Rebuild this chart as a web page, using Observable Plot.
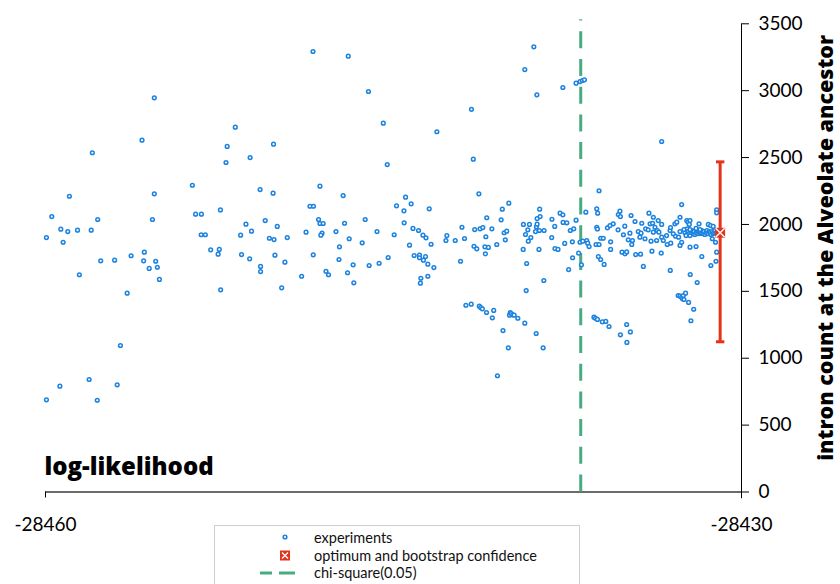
<!DOCTYPE html>
<html><head><meta charset="utf-8">
<script src="https://cdn.jsdelivr.net/npm/d3@7"></script>
<script src="https://cdn.jsdelivr.net/npm/@observablehq/plot@0.6"></script>
<style>
html,body{margin:0;padding:0;background:#fff;overflow:hidden;}
#wrap{position:relative;width:840px;height:584px;}
#legend{position:absolute;left:214px;top:525px;width:366px;height:70px;border:1px solid #cfcfcf;background:#fff;font-family:Lato,sans-serif;font-size:14.5px;color:#111;box-sizing:border-box;}
.row{position:absolute;left:0;width:100%;height:18px;}
.row svg{position:absolute;left:30px;top:0;}
.row span{position:absolute;left:99px;top:0;line-height:18px;}
</style></head>
<body><div id="wrap"></div>
<script>
const ll = [
-28459.96,-28459.73,-28459.34,-28459.24,-28459.04,-28458.97,-28458.62,-28458.54,-28458.03,-28457.98,
-28457.75,-28457.62,-28457.02,-28456.48,-28456.31,-28455.84,-28455.74,-28455.77,-28455.53,-28455.39,
-28455.31,-28455.31,-28455.25,-28455.18,-28455.09,-28459.96,-28459.38,-28458.12,-28457.77,-28456.91,
-28456.77,-28453.67,-28453.53,-28453.28,-28453.29,-28453.11,-28452.88,-28452.56,-28452.51,-28452.46,
-28452.45,-28452.22,-28452.17,-28451.82,-28451.59,-28451.55,-28451.36,-28451.20,-28451.18,-28451.12,
-28450.75,-28450.73,-28450.73,-28450.53,-28450.35,-28450.19,-28450.17,-28450.15,-28450.11,-28450.01,
-28449.82,-28449.68,-28449.58,-28448.96,-28448.77,-28448.60,-28448.47,-28448.46,-28448.45,-28448.23,
-28448.17,-28448.17,-28448.03,-28448.08,-28448.13,-28447.91,-28447.80,-28447.48,-28447.35,-28447.33,
-28447.17,-28447.11,-28446.98,-28446.95,-28446.91,-28446.74,-28446.71,-28446.35,-28446.22,-28446.08,
-28446.05,-28445.71,-28445.62,-28445.44,-28445.27,-28445.23,-28444.97,-28444.87,-28444.55,-28444.54,
-28444.48,-28444.31,-28444.24,-28444.16,-28444.11,-28443.92,-28443.88,-28443.88,-28443.82,-28443.84,
-28443.73,-28443.71,-28443.62,-28443.60,-28443.52,-28443.52,-28443.46,-28443.38,-28443.26,-28443.13,
-28442.74,-28442.70,-28442.34,-28442.11,-28442.05,-28441.94,-28441.88,-28441.65,-28441.64,-28441.56,
-28441.53,-28441.50,-28441.41,-28441.32,-28441.30,-28441.27,-28441.24,-28441.17,-28441.15,-28441.06,
-28441.04,-28441.02,-28440.99,-28440.98,-28440.91,-28440.76,-28440.74,-28440.68,-28440.55,-28440.52,
-28440.36,-28440.31,-28440.28,-28440.23,-28440.18,-28440.12,-28440.05,-28440.03,-28440.00,-28439.97,
-28439.93,-28439.86,-28439.80,-28439.64,-28439.41,-28439.40,-28439.34,-28439.34,-28439.31,-28439.28,
-28439.26,-28439.21,-28439.19,-28439.14,-28439.08,-28438.95,-28438.88,-28438.85,-28438.84,-28438.82,
-28438.81,-28438.81,-28438.73,-28438.71,-28438.70,-28438.68,-28438.55,-28438.52,-28438.51,-28438.18,
-28438.17,-28438.05,-28438.04,-28437.91,-28437.82,-28437.70,-28437.70,-28437.69,-28437.62,-28437.53,
-28437.45,-28437.38,-28437.29,-28437.28,-28437.23,-28437.13,-28437.13,-28437.02,-28436.96,-28436.86,
-28436.77,-28436.96,-28436.90,-28436.84,-28436.71,-28436.67,-28436.63,-28436.57,-28436.36,-28436.29,
-28436.21,-28436.27,-28436.14,-28436.24,-28436.21,-28436.24,-28436.20,-28436.14,-28436.17,-28436.07,
-28436.07,-28435.96,-28436.00,-28435.85,-28435.92,-28435.78,-28435.71,-28435.67,-28435.64,-28435.64,
-28435.53,-28435.32,-28435.31,-28435.24,-28435.22,-28435.22,-28435.15,-28435.09,-28435.03,-28435.02,
-28434.95,-28434.95,-28434.94,-28434.88,-28434.81,-28434.79,-28434.76,-28434.73,-28434.70,-28434.59,
-28434.56,-28434.45,-28434.38,-28434.35,-28434.33,-28434.30,-28434.23,-28434.16,-28434.13,-28434.02,
-28433.99,-28433.94,-28433.90,-28433.86,-28433.83,-28433.80,-28433.80,-28433.73,-28433.66,-28433.63,
-28433.59,-28433.56,-28433.46,-28433.44,-28433.44,-28433.44,-28433.37,-28433.23,-28433.20,-28433.08,
-28433.06,-28433.07,-28433.05,-28432.94,-28432.87,-28432.84,-28432.79,-28432.73,-28432.71,-28432.65,
-28432.65,-28432.65,-28432.65,-28432.58,-28432.58,-28432.58,-28432.54,-28432.51,-28432.48,-28432.41,
-28432.36,-28432.34,-28432.30,-28432.28,-28432.25,-28432.22,-28432.22,-28432.21,-28432.18,-28432.06,
-28431.96,-28431.91,-28431.83,-28431.71,-28431.43,-28431.33,-28431.22,-28431.32,-28431.26,-28431.12,
-28431.10,-28431.07,-28431.07,-28431.07,-28432.44,-28432.35,-28432.31,-28432.27,-28432.22,-28432.18,
-28432.14,-28432.09,-28432.05,-28432.01,-28431.96,-28431.92,-28431.88,-28431.83,-28431.79,-28431.75,
-28431.71,-28431.66,-28431.62,-28431.58,-28431.53,-28431.49,-28431.45,-28431.40,-28431.36,-28431.32,
-28431.27,-28431.23,-28431.19,-28431.15,-28431.10,-28431.06,-28431.02,-28432.48,-28432.39,-28432.22,
-28431.96,-28431.79
];
const count = [
1902,2059,1965,1867,1947,2211,1957,1624,1957,2536,
2037,1728,1733,1486,1766,2630,1793,1728,1671,2037,
2947,2229,1725,1680,1589,689,791,841,686,801,
1095,2293,2077,2077,1923,1923,1810,1778,1813,2109,
1511,2463,2583,2727,1920,1775,2002,1743,2500,1950,
2261,1686,1648,2029,1897,2234,2600,1887,1770,1985,
1526,1718,1902,1613,1942,2136,3293,1773,2136,2037,
2286,2007,2007,1935,1920,1650,1624,1947,1738,1833,
2216,2009,1639,3258,1893,1698,1564,1863,2037,2994,
1693,1947,1710,2757,2448,1753,1923,2139,2102,2012,
2204,1845,2154,1970,1768,1955,1770,1751,1598,1561,
1920,1733,1760,1900,1703,1613,2117,1852,1678,2693,
1880,1917,1880,1725,1979,1895,1396,1404,2861,2488,
1837,1962,1818,2229,1389,1967,1379,1369,1977,1833,
1780,1908,1342,2050,1828,1967,1302,1357,1850,869,
2035,2114,1207,1938,1885,1950,1078,2159,1322,1342,
1334,1325,1322,1299,1813,2000,3158,1262,1925,1506,
1708,1960,1875,2000,1902,3328,1947,1185,1982,2969,
2044,2002,1813,1955,2114,2059,1078,1581,1955,1902,
2039,1985,1820,1813,2084,2072,3024,2015,1858,2012,
1663,1955,1870,1751,1967,2032,3056,1785,3068,3076,
3081,1867,1698,1875,2092,1880,1860,1835,1307,1299,
1290,1850,1850,1979,1966,2117,2084,2252,1760,1738,
1897,1897,1272,1275,1701,1975,1237,1992,1870,1813,
2005,1960,2074,2099,2059,1175,1793,1923,1987,1780,
1795,1252,1118,1885,1935,1197,2067,1850,1880,2022,
1775,1947,1905,1778,1935,2009,1686,1893,1967,1960,
2084,2005,1875,1800,2009,2054,1942,1979,1880,1955,
2029,1942,1785,2000,1905,2620,1880,1917,1850,1955,
1977,1656,1860,1930,2005,1912,2017,1469,1905,2054,
1947,1843,1464,2149,1867,1456,1444,1469,1439,1486,
2029,1967,2017,1417,2000,2029,1830,1626,1280,1366,
1835,1566,2005,1760,2000,1992,1985,1693,1893,1867,
1725,1793,2109,2087,1940,1925,1947,1932,1917,1940,
1955,1932,1947,1925,1940,1955,1932,1947,1932,1940,
1955,1932,1947,1925,1940,1955,1932,1947,1940,1925,
1947,1932,1940,1955,1932,1947,1940,1962,1917,1962,
1970,1962
];

// optimum and bootstrap confidence interval
const optimumLL = -28430.92;
const optimumCount = 1938;
const ciLow = 1123;
const ciHigh = 2468;
// chi-square(0.05) threshold
const chiSquareLL = -28436.93;
const chiSquareTop = 3530;

const xDomain = [-28460, -28430];
const yDomain = [0, 3500];
const xTicks = [-28460, -28430];
const yTicks = [0, 500, 1000, 1500, 2000, 2500, 3000, 3500];
const axisFoot = -50;

const BLUE = "#1b83df", RED = "#e5331b", GREEN = "#47ad80";

const points = ll.map((v, i) => ({ll: v, count: count[i]}));
const optimum = [{ll: optimumLL, count: optimumCount, lo: ciLow, hi: ciHigh}];
const capSymbol = {draw(ctx) { ctx.moveTo(-4.2, 0); ctx.lineTo(4.2, 0); }};

const chart = Plot.plot({
  width: 840, height: 584,
  marginLeft: 45, marginRight: 99, marginTop: 23.3, marginBottom: 92.5,
  x: {domain: xDomain},
  y: {domain: yDomain},
  style: {fontFamily: "Lato, sans-serif", background: "transparent", overflow: "visible", color: "#000"},
  marks: [
    Plot.ruleY([0], {stroke: "#6b6b6b", strokeWidth: 2}),
    Plot.axisX(xTicks, {tickSize: 6, tickPadding: 19, fontSize: 19, label: null, tickFormat: d => String(d)}),
    Plot.ruleX([xDomain[1]], {y1: axisFoot, y2: yDomain[1], stroke: "#000", strokeWidth: 1}),
    Plot.axisY(yTicks, {anchor: "right", tickSize: 7, tickPadding: 10, fontSize: 19, label: null, tickFormat: d => String(d)}),
    Plot.ruleX([{x: chiSquareLL, y1: 0, y2: chiSquareTop}], {x: "x", y1: "y1", y2: "y2", stroke: GREEN, strokeWidth: 3, strokeDasharray: "17,10.7"}),
    Plot.dot(points, {x: "ll", y: "count", r: 1.85, stroke: BLUE, fill: "#fff", strokeWidth: 1.5}),
    Plot.ruleX(optimum, {x: "ll", y1: "lo", y2: "hi", stroke: RED, strokeWidth: 3}),
    Plot.dot(optimum, {x: "ll", y: "lo", symbol: capSymbol, stroke: RED, strokeWidth: 3, fill: "none"}),
    Plot.dot(optimum, {x: "ll", y: "hi", symbol: capSymbol, stroke: RED, strokeWidth: 3, fill: "none"}),
    Plot.dot(optimum, {x: "ll", y: "count", symbol: "square", r: 5.6, fill: RED, stroke: "none"}),
    Plot.dot(optimum, {x: "ll", y: "count", symbol: "times", r: 4.2, stroke: "#fff", strokeWidth: 1.4}),
    Plot.text(["log-likelihood"], {text: d => d, frameAnchor: "bottom-left", textAnchor: "start", lineAnchor: "middle", dx: -1, dy: -25, fontSize: 24, fontWeight: 800, fontFamily: "Open Sans, sans-serif", fill: "#000"}),
    Plot.text(["intron count at the Alveolate ancestor"], {text: d => d, frameAnchor: "right", textAnchor: "middle", lineAnchor: "middle", rotate: -90, dx: 85, dy: -10, fontSize: 21.5, fontWeight: 800, fontFamily: "Open Sans, sans-serif", fill: "#000"})
  ]
});
const wrap = document.getElementById("wrap");
wrap.appendChild(chart);

const legend = document.createElement("div");
legend.id = "legend";
legend.innerHTML = `
<div class="row" style="top:3px"><svg width="60" height="18"><circle cx="40" cy="8" r="1.85" fill="#fff" stroke="${BLUE}" stroke-width="1.5"/></svg><span>experiments</span></div>
<div class="row" style="top:20.5px"><svg width="60" height="18"><rect x="35" y="3.5" width="10" height="10" fill="${RED}"/><path d="M37 5.5 L43 11.5 M43 5.5 L37 11.5" stroke="#fff" stroke-width="1.4"/></svg><span>optimum and bootstrap confidence</span></div>
<div class="row" style="top:38px"><svg width="60" height="18"><path d="M15 9 H27 M34 9 H50" stroke="${GREEN}" stroke-width="3"/></svg><span>chi-square(0.05)</span></div>`;
wrap.appendChild(legend);
</script>
</body></html>
